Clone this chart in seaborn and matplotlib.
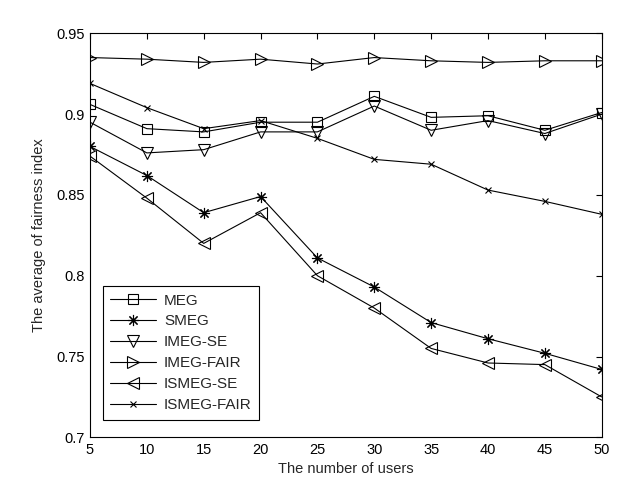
import pandas as pd
import matplotlib
matplotlib.use("Agg")
import matplotlib.pyplot as plt
import seaborn as sns

# data
users = [5, 10, 15, 20, 25, 30, 35, 40, 45, 50]
meg = [0.906, 0.891, 0.889, 0.895, 0.895, 0.911, 0.898, 0.899, 0.890, 0.901]
smeg = [0.880, 0.862, 0.839, 0.849, 0.811, 0.793, 0.771, 0.761, 0.752, 0.742]
imeg_se = [0.895, 0.876, 0.878, 0.889, 0.889, 0.905, 0.890, 0.896, 0.888, 0.900]
imeg_fair = [0.935, 0.934, 0.932, 0.934, 0.931, 0.935, 0.933, 0.932, 0.933, 0.933]
ismeg_se = [0.874, 0.848, 0.820, 0.839, 0.800, 0.780, 0.755, 0.746, 0.745, 0.725]
ismeg_fair = [0.919, 0.904, 0.891, 0.896, 0.885, 0.872, 0.869, 0.853, 0.846, 0.838]

series = {
    'MEG': meg,
    'SMEG': smeg,
    'IMEG-SE': imeg_se,
    'IMEG-FAIR': imeg_fair,
    'ISMEG-SE': ismeg_se,
    'ISMEG-FAIR': ismeg_fair,
}
markers = {
    'MEG': ('s', 7),
    'SMEG': ((8, 2, 0), 8),
    'IMEG-SE': ('v', 9),
    'IMEG-FAIR': ('>', 9),
    'ISMEG-SE': ('<', 9),
    'ISMEG-FAIR': ('x', 4),
}

sns.set_style('white')
plt.rcParams['font.family'] = ['Liberation Sans', 'DejaVu Sans']
plt.rcParams['font.size'] = 10.5

fig = plt.figure(figsize=(6.37, 5.01), dpi=100)
ax = fig.add_axes([0.1413, 0.1271, 0.8033, 0.8064])

for name, vals in series.items():
    df = pd.DataFrame({'Users': users, 'Fairness': vals})
    m, ms = markers[name]
    sns.lineplot(x='Users', y='Fairness', data=df, ax=ax, color='k',
                 marker=m, markersize=ms, markerfacecolor='none',
                 markeredgecolor='k', markeredgewidth=0.8, linewidth=0.8,
                 label=name)

ax.set_xlim(5, 50)
ax.set_ylim(0.7, 0.95)
ax.set_xticks(users)
ax.set_yticks([0.7, 0.75, 0.8, 0.85, 0.9, 0.95])
ax.set_yticklabels(['0.7', '0.75', '0.8', '0.85', '0.9', '0.95'])
ax.tick_params(direction='in', top=True, right=True, length=4, width=0.8,
               labelsize=10.5, colors='k', pad=4)
for s in ax.spines.values():
    s.set_visible(True)
    s.set_color('k')
    s.set_linewidth(0.8)
ax.set_xlabel('The number of users', fontsize=10.5, labelpad=4)
ax.set_ylabel('The average of fairness index', fontsize=10.5, labelpad=7)

leg = ax.legend(loc='lower left', bbox_to_anchor=(0.01, 0.025), fancybox=False,
                edgecolor='k', framealpha=1, handlelength=3.0, fontsize=11,
                borderpad=0.5, labelspacing=0.45, handletextpad=0.5)
leg.get_frame().set_linewidth(0.8)

fig.savefig('out.png', dpi=100)
